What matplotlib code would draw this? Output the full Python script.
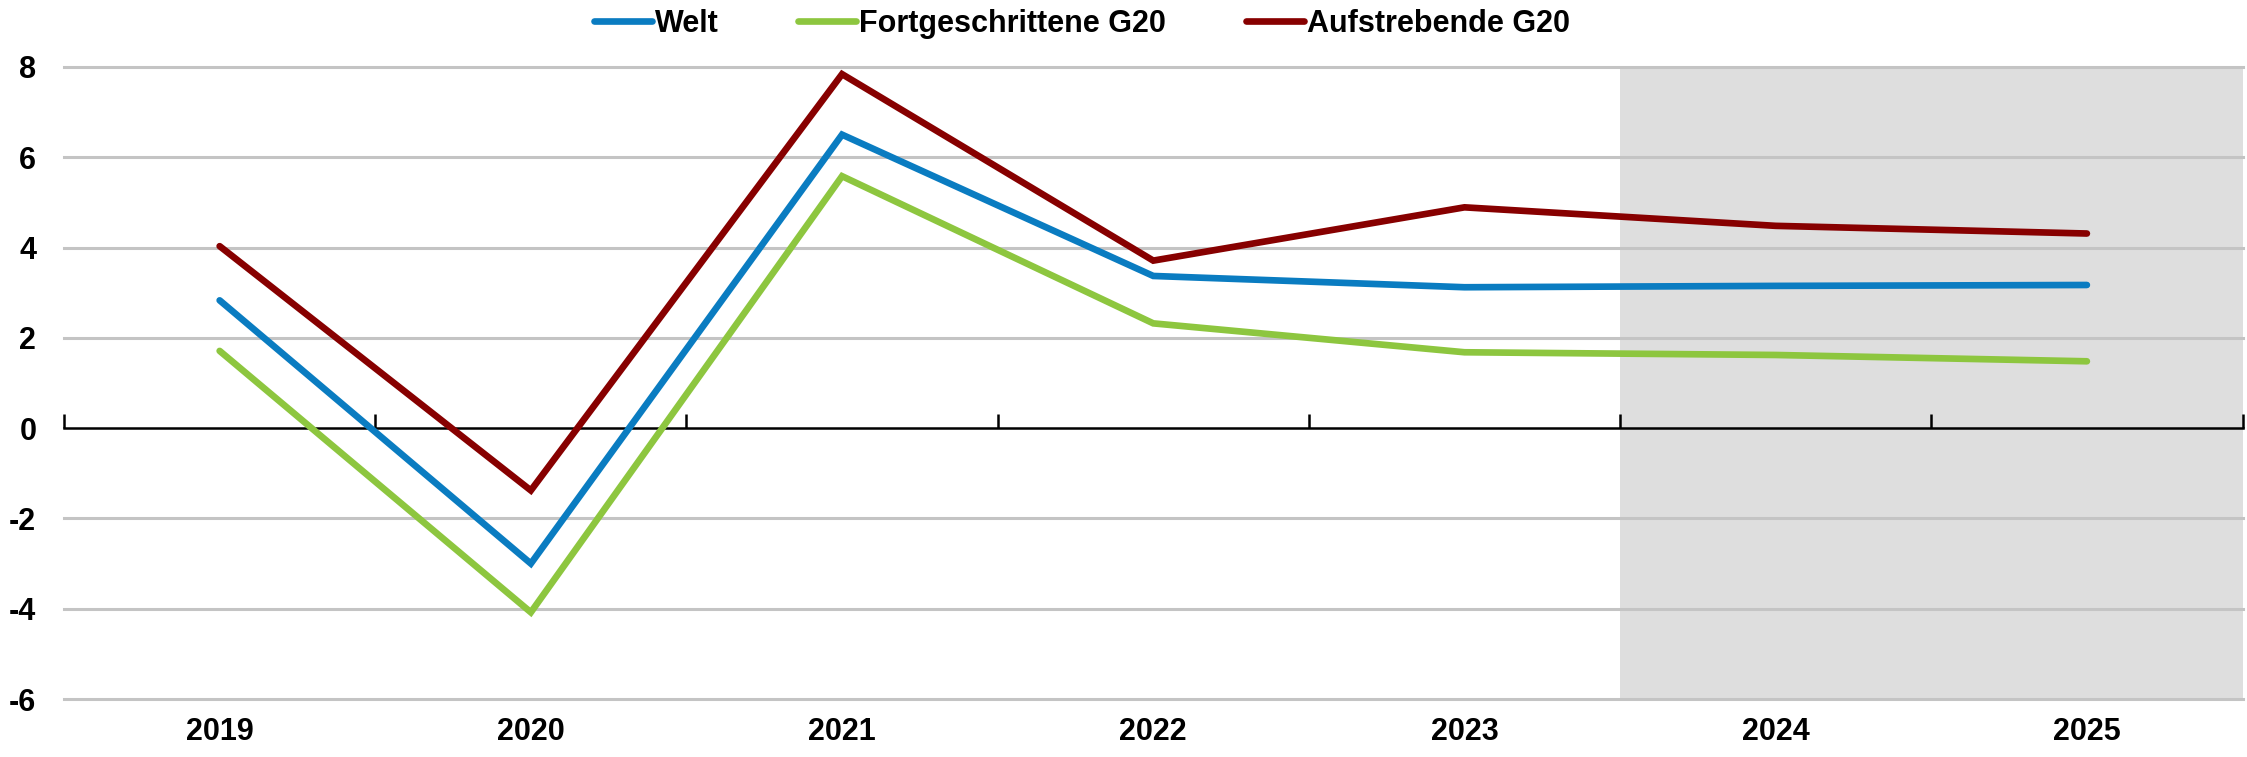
import numpy as np
import matplotlib.pyplot as plt

years = ["2019", "2020", "2021", "2022", "2023", "2024", "2025"]
welt = [2.83, -3.0, 6.5, 3.37, 3.12, 3.15, 3.17]
fortg = [1.71, -4.08, 5.58, 2.32, 1.68, 1.62, 1.48]
aufstr = [4.03, -1.38, 7.84, 3.71, 4.89, 4.48, 4.31]
names = ["Welt", "Fortgeschrittene G20", "Aufstrebende G20"]
colors = ["#0a7cc1", "#8dc63f", "#870000"]
yticks = [-6, -4, -2, 0, 2, 4, 6, 8]
proj_start = 5  # index of first projection year

plt.rcParams['font.family'] = ['Liberation Sans', 'DejaVu Sans']
plt.rcParams['font.weight'] = 'bold'

fig = plt.figure(figsize=(22.47, 7.57), dpi=100)
ax = fig.add_axes([0.0285, 0.0766, 0.9695, 0.835])

x = np.arange(len(years))
n = len(years)
ax.set_xlim(-0.5, n - 0.5)
ax.set_ylim(-6, 8)

ax.axvspan(proj_start - 0.5, n - 0.5, color="#dedede", zorder=0, lw=0)
for v in yticks:
    if v != 0:
        ax.axhline(v, color="#c4c4c4", lw=2.2, zorder=1, clip_on=False)

for vals, name, c in zip([welt, fortg, aufstr], names, colors):
    ax.plot(x, vals, color=c, lw=4.8, label=name, zorder=3, solid_capstyle='round', solid_joinstyle='miter')

for s in ['left', 'right', 'top']:
    ax.spines[s].set_visible(False)
ax.spines['bottom'].set_position(('data', 0))
ax.spines['bottom'].set_linewidth(1.8)
ax.spines['bottom'].set_zorder(2)

ax.set_xticks(x)
ax.set_xticklabels([])
ax.tick_params(axis='x', which='major', length=0)
ax.set_xticks(np.arange(n + 1) - 0.5, minor=True)
ax.tick_params(axis='x', which='minor', direction='in', length=10, width=1.8)

ax.set_yticks(yticks)
ax.set_yticklabels([str(v) for v in yticks])
ax.tick_params(axis='y', length=0, pad=20, labelsize=22)

sec = ax.secondary_xaxis(0)
sec.set_xticks(x)
sec.set_xticklabels(years)
sec.tick_params(length=0, pad=13, labelsize=22)
sec.spines['bottom'].set_visible(False)

fig.legend(loc='upper center', bbox_to_anchor=(0.4815, 1.025), ncol=3, frameon=False,
           fontsize=22, handlelength=1.9, handletextpad=0.1, columnspacing=2.6)

fig.savefig("out.png", dpi=100)
